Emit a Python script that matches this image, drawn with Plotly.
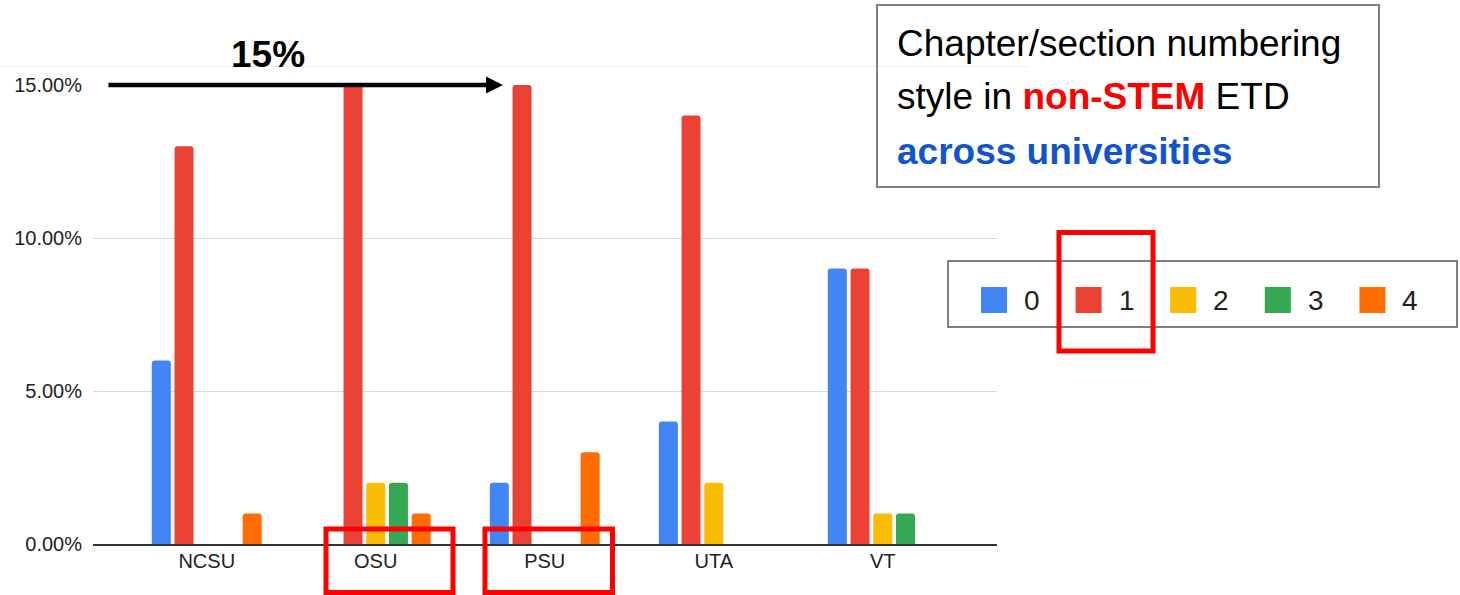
import plotly.graph_objects as go

# ---- data ----
universities = ["NCSU", "OSU", "PSU", "UTA", "VT"]
series_names = ["0", "1", "2", "3", "4"]
s0 = [6, 0, 2, 4, 9]
s1 = [13, 15, 15, 14, 9]
s2 = [0, 2, 0, 2, 1]
s3 = [0, 2, 0, 0, 1]
s4 = [1, 1, 3, 0, 0]
series_values = [s0, s1, s2, s3, s4]
colors = ["#4285F4", "#EA4335", "#FBBC04", "#34A853", "#FF6D01"]
y_tickvals = [0, 5, 10, 15]
y_ticktext = ["0.00%", "5.00%", "10.00%", "15.00%"]
arrow_value = 15
arrow_label = "15%"

W, H = 1460, 595
FONT = "Liberation Sans, Arial, sans-serif"


def px(x):
    return x / W


def py(y):
    return 1 - y / H


fig = go.Figure()
for name, vals, col in zip(series_names, series_values, colors):
    fig.add_trace(go.Bar(x=universities, y=vals, name=name, marker_color=col,
                         marker_line_width=0, showlegend=False, hoverinfo="skip"))

shapes = []
annotations = []

# faint top line
shapes.append(dict(type="line", xref="paper", yref="paper", x0=px(0), x1=px(1027),
                   y0=py(66.5), y1=py(66.5), line=dict(color="#efefef", width=1)))

# title box
shapes.append(dict(type="rect", xref="paper", yref="paper", x0=px(877), x1=px(1379),
                   y0=py(5), y1=py(187), line=dict(color="#808080", width=2)))
annotations += [
    dict(xref="paper", yref="paper", x=px(895), y=py(44), xanchor="left", yanchor="middle",
         text="Chapter/section numbering", showarrow=False,
         font=dict(family=FONT, size=37, color="#000000")),
    dict(xref="paper", yref="paper", x=px(895), y=py(97), xanchor="left", yanchor="middle",
         text="style in <span style='color:#ff0000'><b>non-STEM</b></span> ETD", showarrow=False,
         font=dict(family=FONT, size=37, color="#000000")),
    dict(xref="paper", yref="paper", x=px(895), y=py(151), xanchor="left", yanchor="middle",
         text="<b>across universities</b>", showarrow=False,
         font=dict(family=FONT, size=37, color="#1155CC")),
]

# legend box
shapes.append(dict(type="rect", xref="paper", yref="paper", x0=px(948), x1=px(1457),
                   y0=py(261), y1=py(327), line=dict(color="#808080", width=2)))
for i, (name, col) in enumerate(zip(series_names, colors)):
    left = 981 + i * 94.6
    shapes.append(dict(type="rect", xref="paper", yref="paper", x0=px(left), x1=px(left + 26),
                       y0=py(313), y1=py(287), fillcolor=col, line=dict(width=0)))
    annotations.append(dict(xref="paper", yref="paper", x=px(left + 41), y=py(300),
                            xanchor="left", yanchor="middle", text=name, showarrow=False,
                            font=dict(family=FONT, size=28, color="#222222")))

# arrow + label
x0c, unit = 206.8, 169.0
annotations.append(dict(xref="x", yref="y", axref="x", ayref="y",
                        x=(503 - x0c) / unit, y=arrow_value,
                        ax=(107 - x0c) / unit, ay=arrow_value,
                        showarrow=True, arrowhead=2, arrowsize=0.75, arrowwidth=4.5,
                        arrowcolor="#000000", text=""))
annotations.append(dict(xref="paper", yref="paper", x=px(268), y=py(54), xanchor="center",
                        yanchor="middle", text="<b>" + arrow_label + "</b>", showarrow=False,
                        font=dict(family=FONT, size=37, color="#000000")))

# red highlight boxes
red = dict(color="#ff0000", width=5)
for (a, b, c, d) in [(1059, 232.5, 1153, 351), (326, 529, 453, 592.5), (485, 529, 612.5, 592.5)]:
    shapes.append(dict(type="rect", xref="paper", yref="paper", x0=px(a), x1=px(c),
                       y0=py(b), y1=py(d), line=red))

fig.update_layout(
    width=W, height=H,
    margin=dict(l=0, r=0, t=0, b=0, pad=0, autoexpand=False),
    paper_bgcolor="white", plot_bgcolor="white",
    barmode="group", bargap=0.328, bargroupgap=0.163, barcornerradius=3,
    font=dict(family=FONT, color="#222222"),
    xaxis=dict(domain=[px(93), px(997)], range=[-0.673, 4.676], showgrid=False,
               showline=True, linecolor="#333333", linewidth=1.5, ticks="",
               tickfont=dict(size=20, color="#222222"), ticklabelstandoff=-2,
               automargin=False, fixedrange=True),
    yaxis=dict(domain=[py(544), py(85)], range=[0, 15], tickvals=y_tickvals,
               ticktext=y_ticktext, showgrid=True, gridcolor="#d9d9d9", gridwidth=1.3,
               zeroline=False, showline=False, ticks="",
               tickfont=dict(size=20, color="#222222"), ticklabelstandoff=10,
               automargin=False, fixedrange=True),
    shapes=shapes,
    annotations=annotations,
    hovermode=False,
)

fig.write_html("out.html", config={"displayModeBar": False})
